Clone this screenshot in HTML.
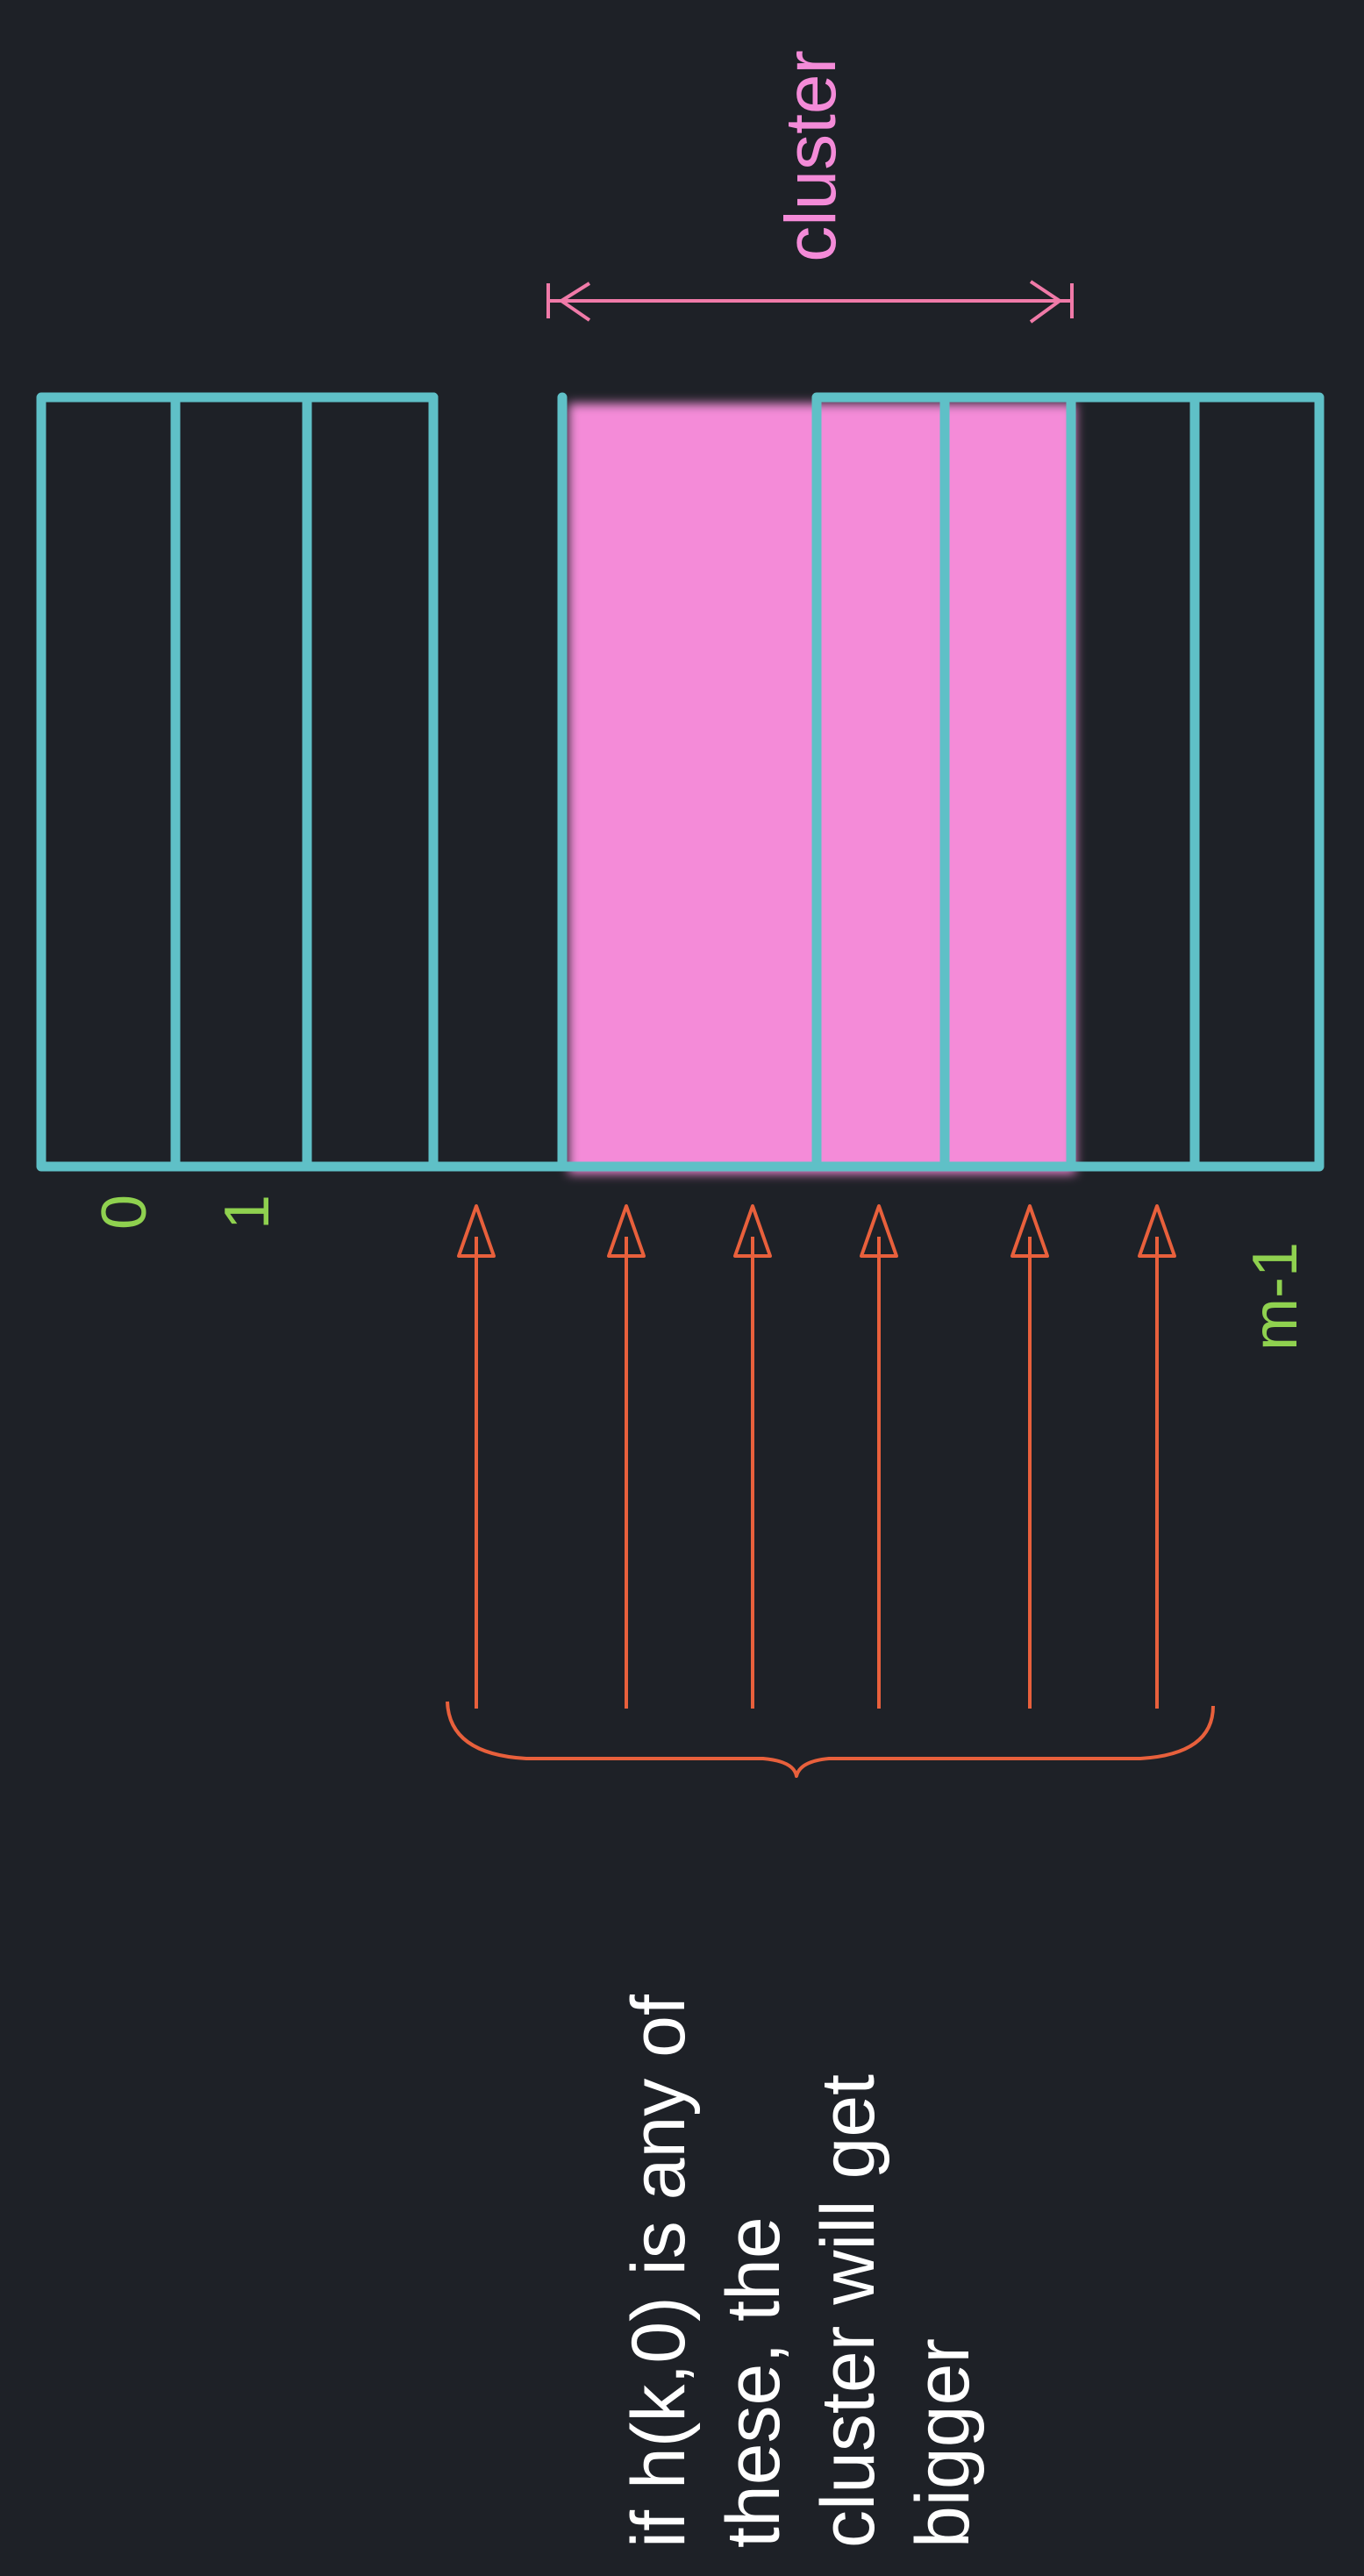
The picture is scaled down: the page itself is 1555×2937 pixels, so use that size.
<!DOCTYPE html>
<html><head><meta charset="utf-8"><style>
html,body{margin:0;padding:0;background:#1e2127;}
svg{display:block}
</style></head><body>
<svg width="1555" height="2937" viewBox="0 0 1555 2937">
<rect width="1555" height="2937" fill="#1e2127"/>
<defs><filter id="blur" x="-5%" y="-5%" width="110%" height="110%"><feGaussianBlur stdDeviation="6"/></filter></defs>
<rect x="648" y="460" width="578" height="878" fill="#f48bd8" filter="url(#blur)"/>
<g stroke="#5fc0c7" stroke-width="11" fill="none" stroke-linejoin="round" stroke-linecap="round">
<polyline points="494,453 47,453 47,1330 1504,1330 1504,453 931,453 931,1330"/>
<line x1="494" y1="453" x2="494" y2="1330"/>
<line x1="200" y1="453" x2="200" y2="1330"/>
<line x1="350" y1="453" x2="350" y2="1330"/>
<line x1="641" y1="453" x2="641" y2="1330"/>
<line x1="1077" y1="453" x2="1077" y2="1330"/>
<line x1="1221" y1="453" x2="1221" y2="1330"/>
<line x1="1362" y1="453" x2="1362" y2="1330"/>
</g>
<g stroke="#f07aa8" stroke-width="4" fill="none">
<line x1="625" y1="343" x2="1222" y2="343"/>
<line x1="625" y1="323" x2="625" y2="363"/>
<line x1="1222" y1="323" x2="1222" y2="363"/>
<polyline points="672,323 640,343 672,365"/>
<polyline points="1175,321 1208,343 1175,367"/>
</g>
<text transform="translate(952,178) rotate(-90)" text-anchor="middle" font-family="Liberation Sans, sans-serif" font-size="82" fill="#f48bd8">cluster</text>
<g font-family="Liberation Sans, sans-serif" font-size="72" fill="#8fd14f">
<text transform="translate(166,1382) rotate(-90)" text-anchor="middle">0</text>
<text transform="translate(306,1382) rotate(-90)" text-anchor="middle">1</text>
<text transform="translate(1478,1478) rotate(-90)" text-anchor="middle">m-1</text>
</g>
<g stroke="#e8603c" stroke-width="4" fill="none" stroke-linejoin="round">
<g id="arrows"></g>
<path d="M510,1940 Q512,2000 600,2005 L870,2005 Q905,2008 908,2025 Q912,2008 945,2005 L1300,2005 Q1383,2000 1383,1945"/>
</g>
<g font-family="Liberation Sans, sans-serif" font-size="86" fill="#ffffff">
<text transform="translate(780,2905) rotate(-90)">if h(k,0) is any of</text>
<text transform="translate(888,2905) rotate(-90)">these, the</text>
<text transform="translate(996,2905) rotate(-90)">cluster will get</text>
<text transform="translate(1104,2905) rotate(-90)">bigger</text>
</g>
</svg>
<script>
const arrowXs=[543,714,858,1002,1174,1319];
const g=document.getElementById('arrows');
arrowXs.forEach((x,i)=>{
  const l=document.createElementNS('http://www.w3.org/2000/svg','path');
  l.setAttribute('d',`M${x},1948 L${x},1410 M${x},1375 L${x-20},1432 L${x+20},1432 Z`);
  
  
  g.appendChild(l);
});
</script>
</body></html>
